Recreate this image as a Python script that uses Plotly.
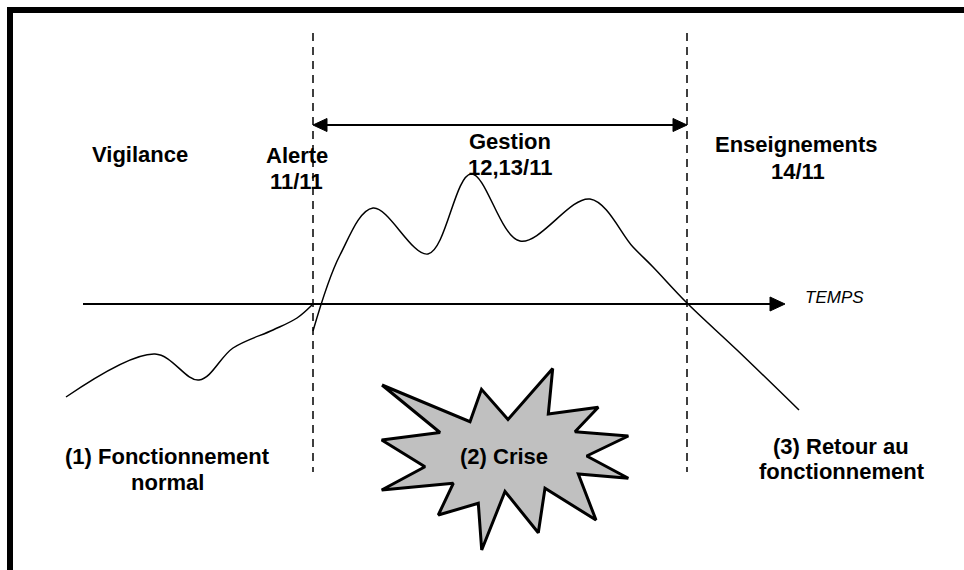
import plotly.graph_objects as go

W, H = 964, 570

# --- curve data (pixel-space coordinates) ---
normal_x = [66, 155, 199, 233, 273, 297, 312]
normal_y = [397, 354, 380, 348, 330, 318, 305]

crisis_x = [313, 340, 373, 428, 471, 520, 590, 633, 653, 687, 737, 799]
crisis_y = [331, 255, 208, 254, 174, 241, 199, 247, 267, 303, 350, 410]

# starburst outline
burst_x = [382, 470, 481.5, 508, 552.7, 548.3, 598.3, 575, 628.3, 586.7, 628.3, 578.3, 596, 545, 538.3, 505,
           481.7, 478.3, 438.3, 453.3, 381.7, 425, 381.7, 440, 382]
burst_y = [385, 421.7, 389.3, 419.5, 368.5, 414, 407.3, 431.7, 436, 456, 478.3, 474, 520, 488.3, 532.7, 491.5,
           550, 503.3, 515, 483.3, 490, 466.7, 440, 432.5, 385]

# phase boundaries
alert_x = 313
lessons_x = 687
dash_top = 33
dash_bottom = 472

# time axis
axis_y = 304
axis_start = 83
axis_tip = 785

# management double arrow
gestion_y = 125

# labels
bold_labels = ["Vigilance", "Alerte", "11/11", "Gestion", "12,13/11", "Enseignements", "14/11",
               "(1) Fonctionnement", "normal", "(2) Crise", "(3) Retour au", "fonctionnement"]
bold_x = [140, 297, 296, 510, 510, 796, 798, 167, 167, 504, 841, 842]
bold_y = [154, 155, 181, 141, 167, 144.5, 171, 456, 482, 456, 446, 471]

axis_label = "TEMPS"
axis_label_x = 834
axis_label_y = 297

fig = go.Figure()

fig.add_trace(go.Scatter(x=normal_x, y=normal_y, mode="lines",
                         line=dict(color="black", width=1.5, shape="spline", smoothing=1.0),
                         hoverinfo="skip", showlegend=False))
fig.add_trace(go.Scatter(x=crisis_x, y=crisis_y, mode="lines",
                         line=dict(color="black", width=1.5, shape="spline", smoothing=1.0),
                         hoverinfo="skip", showlegend=False))
fig.add_trace(go.Scatter(x=burst_x, y=burst_y, mode="lines", fill="toself",
                         fillcolor="#c0c0c0", line=dict(color="black", width=3),
                         hoverinfo="skip", showlegend=False))

shapes = []
# frame (top and left thick borders)
shapes.append(dict(type="rect", x0=7, x1=W, y0=7, y1=13, fillcolor="black", line=dict(width=0)))
shapes.append(dict(type="rect", x0=7, x1=13, y0=7, y1=H, fillcolor="black", line=dict(width=0)))
# dashed phase lines
for xv in (alert_x, lessons_x):
    shapes.append(dict(type="line", x0=xv, x1=xv, y0=dash_top, y1=dash_bottom,
                       line=dict(color="black", width=1.5, dash="8px,6px")))
# time axis
ah_len, ah_half = 15, 7
shapes.append(dict(type="line", x0=axis_start, x1=axis_tip - ah_len, y0=axis_y, y1=axis_y,
                   line=dict(color="black", width=2)))
shapes.append(dict(type="path",
                   path=f"M {axis_tip} {axis_y} L {axis_tip-ah_len} {axis_y-ah_half} L {axis_tip-ah_len} {axis_y+ah_half} Z",
                   fillcolor="black", line=dict(color="black", width=1)))
# double arrow (gestion)
g_len, g_half = 14, 6.5
shapes.append(dict(type="line", x0=alert_x + g_len, x1=lessons_x - g_len, y0=gestion_y, y1=gestion_y,
                   line=dict(color="black", width=2)))
shapes.append(dict(type="path",
                   path=f"M {lessons_x} {gestion_y} L {lessons_x-g_len} {gestion_y-g_half} L {lessons_x-g_len} {gestion_y+g_half} Z",
                   fillcolor="black", line=dict(color="black", width=1)))
shapes.append(dict(type="path",
                   path=f"M {alert_x} {gestion_y} L {alert_x+g_len} {gestion_y-g_half} L {alert_x+g_len} {gestion_y+g_half} Z",
                   fillcolor="black", line=dict(color="black", width=1)))

annotations = []
for t, xv, yv in zip(bold_labels, bold_x, bold_y):
    annotations.append(dict(x=xv, y=yv, xref="x", yref="y", text=f"<b>{t}</b>", showarrow=False,
                            xanchor="center", yanchor="middle",
                            font=dict(family="Arial, Liberation Sans, sans-serif", size=22, color="black")))
annotations.append(dict(x=axis_label_x, y=axis_label_y, xref="x", yref="y", text=f"<i>{axis_label}</i>",
                        showarrow=False, xanchor="center", yanchor="middle",
                        font=dict(family="Arial, Liberation Sans, sans-serif", size=17, color="black")))

fig.update_layout(
    width=W, height=H,
    margin=dict(l=0, r=0, t=0, b=0),
    paper_bgcolor="white", plot_bgcolor="white",
    xaxis=dict(range=[0, W], visible=False, fixedrange=True),
    yaxis=dict(range=[H, 0], visible=False, fixedrange=True),
    shapes=shapes, annotations=annotations, showlegend=False,
)

fig.write_html("out.html", config={"displayModeBar": False},
               post_script="document.body.style.margin='0';document.body.style.overflow='hidden';")
